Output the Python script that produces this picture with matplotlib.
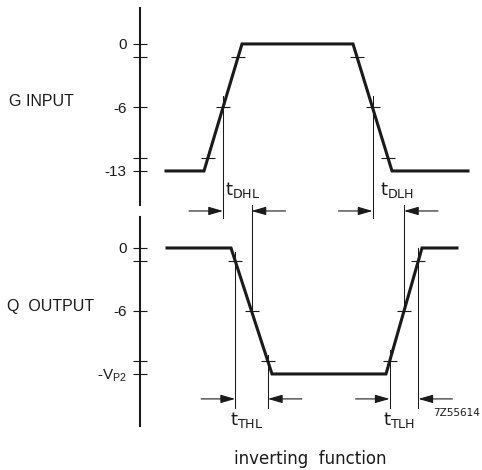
import numpy as np
import matplotlib
matplotlib.use("Agg")
import matplotlib.pyplot as plt

plt.rcParams['mathtext.default'] = 'regular'

# waveforms (time in arbitrary units, level as fraction of full swing)
g_input_t = [26, 64, 102, 213, 252, 328]
g_input_v = [-1, -1, 0, 0, -1, -1]
q_output_t = [27, 91, 132, 246, 282, 317]
q_output_v = [0, 0, -1, -1, 0, 0]

# axis levels
level_ticks = [0, -0.5, -1]
ref_levels = [-0.1, -0.9]
g_labels = ['0', '-6', '-13']
q_labels = ['0', '-6', '-V$_{P2}$']

delay_labels = ['t$_{DHL}$', 't$_{DLH}$']
trans_labels = ['t$_{THL}$', 't$_{TLH}$']

ink = '#1a1a1a'
W, H = 482, 470


def crossing(t, v, seg, level):
    # time where segment seg (t[seg] -> t[seg+1]) passes level
    t0, t1 = t[seg], t[seg + 1]
    v0, v1 = v[seg], v[seg + 1]
    return t0 + (level - v0) / (v1 - v0) * (t1 - t0)


fig = plt.figure(figsize=(W / 100, H / 100), dpi=100)
ax1 = fig.add_axes([140 / W, 1 - 205 / H, 342 / W, 197 / H])
ax2 = fig.add_axes([140 / W, 1 - 426 / H, 342 / W, 209 / H])
ax1.set_ylim(-1.268, 0.283)
ax2.set_ylim(-1.413, 0.246)

for ax, labels in [(ax1, g_labels), (ax2, q_labels)]:
    ax.set_xlim(0, 342)
    for s in ['top', 'right', 'bottom']:
        ax.spines[s].set_visible(False)
    ax.spines['left'].set_linewidth(1.5)
    ax.spines['left'].set_color(ink)
    ax.set_xticks([])
    ax.set_yticks(level_ticks)
    ax.set_yticklabels(labels, fontsize=11, family='Liberation Sans', color=ink)
    ax.set_yticks(ref_levels, minor=True)
    ax.tick_params(axis='y', which='both', direction='inout', length=10,
                   width=0.8, color=ink, pad=4.5)
    ax.patch.set_alpha(0)

# waveforms
ax1.plot(g_input_t, g_input_v, color=ink, lw=2.2, solid_joinstyle='miter')
ax2.plot(q_output_t, q_output_v, color=ink, lw=2.2, solid_joinstyle='miter')

# level marks on the edges
for ax, t, v in [(ax1, g_input_t, g_input_v), (ax2, q_output_t, q_output_v)]:
    for seg in [1, 3]:
        xs = [crossing(t, v, seg, lv) for lv in [-0.1, -0.5, -0.9]]
        ax.plot(xs, [-0.1, -0.5, -0.9], ls='none', marker='_', ms=10,
                mew=0.8, color=ink)

thin = dict(color=ink, lw=0.75, clip_on=False)

# delay markers (50 % points)
xa = crossing(g_input_t, g_input_v, 1, -0.5)
xc = crossing(g_input_t, g_input_v, 3, -0.5)
xb = crossing(q_output_t, q_output_v, 1, -0.5)
xd = crossing(q_output_t, q_output_v, 3, -0.5)
for x in [xa, xc]:
    ax1.plot([x, x], [-0.41, -1.37], **thin)
for x in [xb, xd]:
    ax2.plot([x, x], [-0.5, 0.345], **thin)

# transition markers (10 % / 90 % points)
xe = crossing(q_output_t, q_output_v, 1, -0.1)
xf = crossing(q_output_t, q_output_v, 1, -0.9)
xg = crossing(q_output_t, q_output_v, 3, -0.9)
xh = crossing(q_output_t, q_output_v, 3, -0.1)
ax2.plot([xe, xe], [-0.03, -1.27], **thin)
ax2.plot([xf, xf], [-0.85, -1.27], **thin)
ax2.plot([xg, xg], [-0.81, -1.27], **thin)
ax2.plot([xh, xh], [0.0, -1.27], **thin)

arrow = dict(arrowstyle='-|>,head_length=1.1,head_width=0.32', color=ink,
             lw=0.8, shrinkA=0, shrinkB=0, mutation_scale=8)
span = 34


def pair(ax, x_left, x_right, y):
    ax.annotate('', xy=(x_left, y), xytext=(x_left - span, y),
                arrowprops=arrow, annotation_clip=False)
    ax.annotate('', xy=(x_right, y), xytext=(x_right + span, y),
                arrowprops=arrow, annotation_clip=False)


pair(ax1, xa, xb, -1.315)
pair(ax1, xc, xd, -1.315)
pair(ax2, xe, xf, -1.198)
pair(ax2, xg, xh, -1.198)

tfont = dict(fontsize=13, family='DejaVu Sans', color=ink, va='baseline',
             ha='left')
ax1.text(xa + 2, -1.19, delay_labels[0], **tfont)
ax1.text(xc + 7, -1.19, delay_labels[1], **tfont)
ax2.text(xe - 5, -1.405, trans_labels[0], **tfont)
ax2.text(xg - 7, -1.405, trans_labels[1], **tfont)

ax2.text(293, -1.31, '7Z55614', fontsize=7.5, family='DejaVu Sans',
         color=ink, va='center', ha='left')

fig.text(9 / W, 1 - 102 / H, 'G INPUT', fontsize=11.5, family='Liberation Sans',
         color=ink, va='center', ha='left')
fig.text(7 / W, 1 - 307 / H, 'Q  OUTPUT', fontsize=11.5,
         family='Liberation Sans', color=ink, va='center', ha='left')
fig.text(310 / W, 1 - 464 / H, 'inverting  function', fontsize=12,
         family='DejaVu Sans', color=ink, va='baseline', ha='center')

fig.savefig('out.png', dpi=100)
